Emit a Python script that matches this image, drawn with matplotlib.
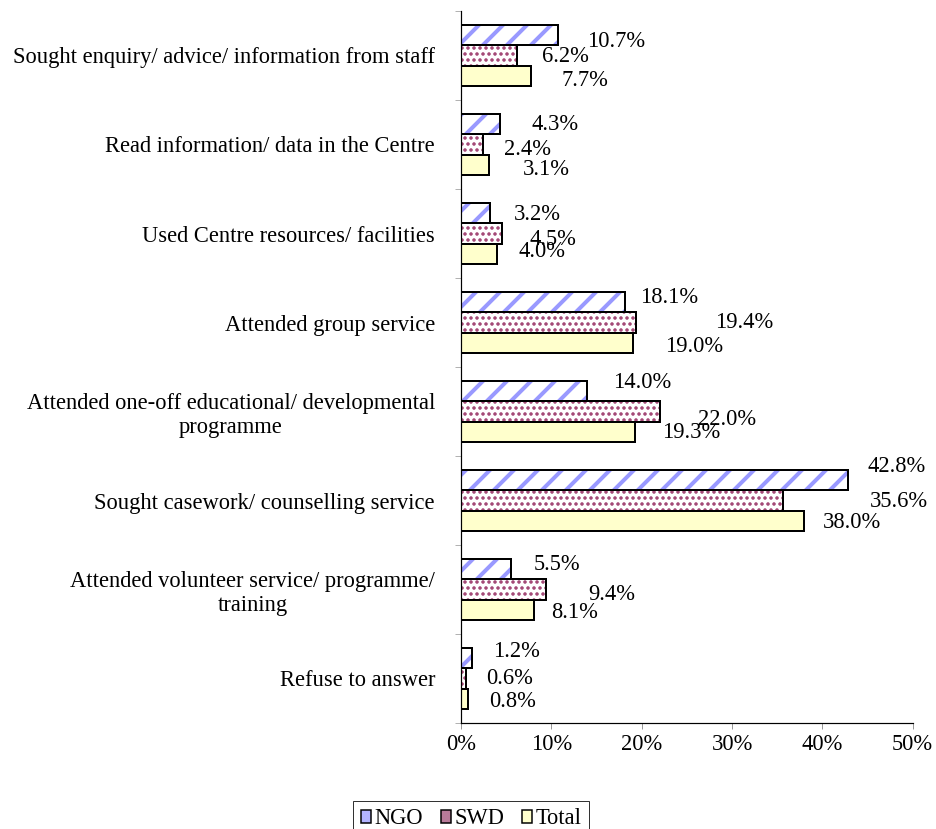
import matplotlib
matplotlib.use("Agg")
import matplotlib.pyplot as plt
from matplotlib.patches import Patch

categories = [
    "Sought enquiry/ advice/ information from staff",
    "Read information/ data in the Centre",
    "Used Centre resources/ facilities",
    "Attended group service",
    "Attended one-off educational/ developmental\nprogramme",
    "Sought casework/ counselling service",
    "Attended volunteer service/ programme/\ntraining",
    "Refuse to answer",
]
ngo = [10.7, 4.3, 3.2, 18.1, 14.0, 42.8, 5.5, 1.2]
swd = [6.2, 2.4, 4.5, 19.4, 22.0, 35.6, 9.4, 0.6]
total = [7.7, 3.1, 4.0, 19.0, 19.3, 38.0, 8.1, 0.8]
series_names = ["NGO", "SWD", "Total"]

# label nudges (pixels right, pixels down) - the original labels were dragged around
lab_dx = [[29, 25, 31], [32, 21, 34], [24, 28, 21], [16, 79, 32],
          [26, 38, 27], [20, 87, 19], [23, 42, 17], [21, 20, 21]]
lab_dy = [[6, 1, 5], [0, 5, 5], [1, 6, -2], [-5, 0, 4],
          [-9, 8, 1], [-14, 1, 2], [-5, 5, 3], [-7, 0, 3]]

plt.rcParams['font.family'] = ['Liberation Serif', 'DejaVu Serif']
plt.rcParams['hatch.linewidth'] = 2.2

fig = plt.figure(figsize=(936 / 72, 829 / 72), dpi=72)
ax = fig.add_axes([461 / 936, 106 / 829, 451.7 / 936, 712 / 829])

fsize = 22.5
h = 0.225
styles = [
    dict(face="white", hcol="#9999FF", hatch="/", hlw=4.0),
    dict(face="white", hcol="#993366", hatch="..", hlw=2.2),
    dict(face="#FFFFCC", hcol="#FFFFCC", hatch=None, hlw=1.0),
]
data = [ngo, swd, total]
ypos = list(range(len(categories)))

for k, vals in enumerate(data):
    st = styles[k]
    yy = [y + (k - 1) * h for y in ypos]
    with plt.rc_context({'hatch.linewidth': st["hlw"]}):
        ax.barh(yy, vals, height=h, color=st["face"], edgecolor=st["hcol"],
                hatch=st["hatch"], linewidth=0)
    ax.barh(yy, vals, height=h, fill=False, edgecolor="black", linewidth=2)
    for i, v in enumerate(vals):
        ax.annotate("%.1f%%" % v, (v, yy[i]), xytext=(lab_dx[i][k], -lab_dy[i][k]),
                    textcoords="offset points", ha="left", va="center",
                    fontsize=fsize)

ax.set_xlim(0, 50)
ax.set_ylim(len(categories) - 0.5, -0.5)
ax.set_xticks(range(0, 51, 10))
ax.set_xticklabels(["%d%%" % t for t in range(0, 51, 10)], fontsize=fsize)
ax.set_yticks(ypos)
ax.set_yticklabels(categories, fontsize=fsize, multialignment="center")
ax.set_yticks([y - 0.5 for y in range(len(categories) + 1)], minor=True)
ax.tick_params(axis="y", which="major", length=0, pad=26)
ax.tick_params(axis="y", which="minor", length=6, color="#808080")
ax.tick_params(axis="x", length=6, color="#808080", pad=5)

for s in ["top", "right"]:
    ax.spines[s].set_visible(False)
ax.spines["left"].set_linewidth(1.2)
ax.spines["bottom"].set_linewidth(1.2)

handles = [
    Patch(facecolor="#B3B3FF", edgecolor="black", linewidth=1.5),
    Patch(facecolor="#B87A99", edgecolor="black", linewidth=1.5),
    Patch(facecolor="#FFFFCC", edgecolor="black", linewidth=1.5),
]
leg = fig.legend(handles, series_names, loc="center", bbox_to_anchor=(471 / 936, 1 - 819 / 829),
                 ncol=3, fontsize=fsize, frameon=True, fancybox=False,
                 handlelength=0.45, handleheight=0.45, handletextpad=0.15,
                 columnspacing=0.8, borderpad=0.35, borderaxespad=0)
leg.get_frame().set_edgecolor("black")
leg.get_frame().set_linewidth(1)

fig.savefig("out.png", dpi=72)
